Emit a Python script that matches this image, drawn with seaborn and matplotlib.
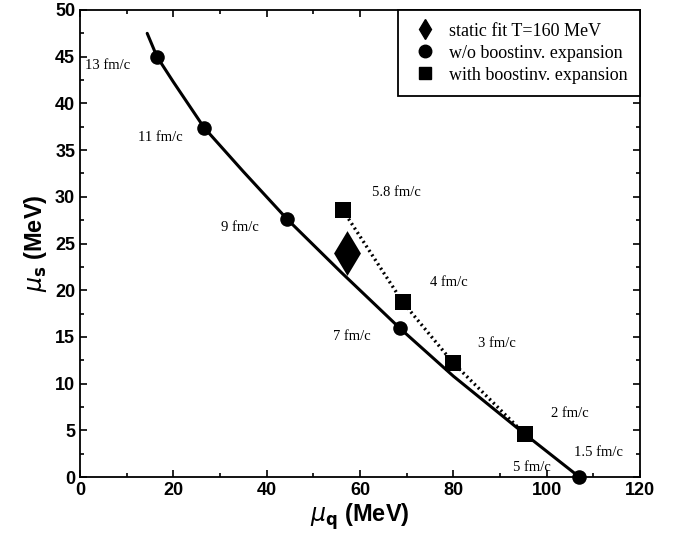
import matplotlib
matplotlib.use("Agg")
import matplotlib.pyplot as plt
import seaborn as sns
import pandas as pd
from matplotlib.lines import Line2D

# solid curve (w/o boost-invariant expansion)
curve_q = [14.4, 16.5, 20.0, 26.6, 35.0, 44.4, 56.0, 68.6, 80.0, 95.3, 107.0]
curve_s = [47.5, 45.0, 42.3, 37.4, 32.7, 27.6, 21.9, 15.9, 10.8, 4.6, 0.0]

# circles: w/o boostinv. expansion
circ_q = [16.5, 26.6, 44.4, 68.6, 107.0]
circ_s = [45.0, 37.4, 27.6, 15.9, 0.0]

# squares: with boostinv. expansion
sq_q = [56.3, 69.2, 80.0, 95.3]
sq_s = [28.6, 18.7, 12.2, 4.6]

# diamond: static fit T=160 MeV
dia_q = [57.2]
dia_s = [24.0]

# time annotations
lab_text = ["13 fm/c", "11 fm/c", "9 fm/c", "7 fm/c", "5.8 fm/c", "4 fm/c",
            "3 fm/c", "2 fm/c", "1.5 fm/c", "5 fm/c"]
lab_q = [5.9, 17.3, 34.3, 58.3, 67.7, 79.1, 89.4, 105.0, 111.0, 96.9]
lab_s = [44.1, 36.4, 26.7, 15.0, 30.5, 20.8, 14.3, 6.85, 2.6, 1.07]

sns.set_style("ticks")
plt.rcParams["font.family"] = ["Liberation Sans", "DejaVu Sans"]
plt.rcParams["mathtext.fontset"] = "dejavusans"
plt.rcParams["text.color"] = "black"
plt.rcParams["axes.labelcolor"] = "black"
plt.rcParams["xtick.color"] = "black"
plt.rcParams["ytick.color"] = "black"
plt.rcParams["axes.edgecolor"] = "black"

fig = plt.figure(figsize=(6.89, 5.39), dpi=100)
ax = fig.add_axes([80 / 689, 62 / 539, 560 / 689, 467 / 539])

df_curve = pd.DataFrame({"q": curve_q, "s": curve_s})
df_sq = pd.DataFrame({"q": sq_q, "s": sq_s})
sns.lineplot(data=df_curve, x="q", y="s", ax=ax, color="black", lw=2.2,
             sort=False, estimator=None)
sns.lineplot(data=df_sq, x="q", y="s", ax=ax, color="black", lw=2.4,
             linestyle=(0, (0.6, 1.0)), sort=False, estimator=None)

sns.scatterplot(x=circ_q, y=circ_s, ax=ax, marker="o", s=110, color="black",
                edgecolor="black", linewidth=0, zorder=5, clip_on=False)
sns.scatterplot(x=sq_q, y=sq_s, ax=ax, marker="s", s=120, color="black",
                edgecolor="black", linewidth=0, zorder=5)
sns.scatterplot(x=dia_q, y=dia_s, ax=ax, marker="d", s=520, color="black",
                edgecolor="black", linewidth=0, zorder=5)

for t, xq, ys in zip(lab_text, lab_q, lab_s):
    ax.text(xq, ys, t, ha="center", va="center", fontsize=10.5,
            family="Liberation Serif", color="black")

ax.set_xlim(0, 120)
ax.set_ylim(0, 50)
ax.set_xticks(range(0, 121, 20))
ax.set_xticks(range(10, 120, 20), minor=True)
ax.set_yticks(range(0, 51, 5))
ax.set_yticks([2.5 + 5 * i for i in range(10)], minor=True)
ax.tick_params(which="both", direction="in", top=True, right=True, width=1.2)
ax.tick_params(which="major", length=5, labelsize=13)
ax.tick_params(which="minor", length=3)
for lab in ax.get_xticklabels() + ax.get_yticklabels():
    lab.set_fontweight("bold")
for sp in ax.spines.values():
    sp.set_linewidth(1.3)
    sp.set_visible(True)

ax.set_xlabel(r"$\mu_{\mathbf{q}}$ (MeV)", fontsize=17, fontweight="bold",
              labelpad=2)
ax.set_ylabel(r"$\mu_{\mathbf{s}}$ (MeV)", fontsize=17, fontweight="bold",
              labelpad=4)

handles = [
    Line2D([], [], marker="d", color="black", ls="none", markersize=10.5),
    Line2D([], [], marker="o", color="black", ls="none", markersize=9),
    Line2D([], [], marker="s", color="black", ls="none", markersize=9),
]
labels = ["static fit T=160 MeV", "w/o boostinv. expansion",
          "with boostinv. expansion"]
leg = ax.legend(handles, labels, loc="upper right", borderaxespad=0,
                fancybox=False, framealpha=1, edgecolor="black",
                prop={"family": "Liberation Serif", "size": 13},
                handletextpad=0.5, labelspacing=0.28, borderpad=0.7,
                handlelength=1.6)
leg.get_frame().set_linewidth(1.3)

fig.savefig("out.png", dpi=100)
